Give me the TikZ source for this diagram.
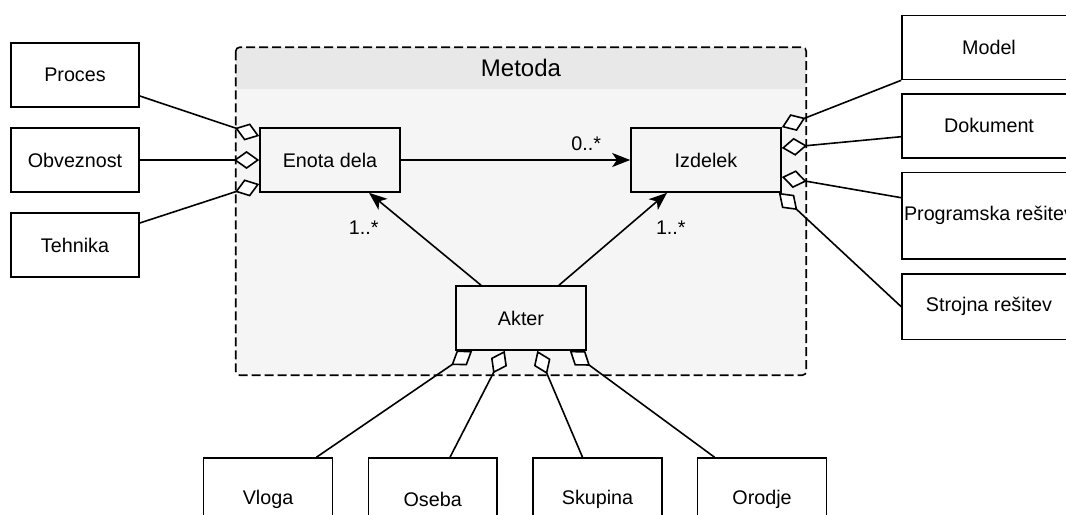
\documentclass[tikz,border=0pt]{standalone}
\usepackage{fontspec}
\setmainfont{Liberation Sans}
\usetikzlibrary{arrows.meta,calc}
\definecolor{laneBody}{HTML}{F5F5F5}
\definecolor{laneHead}{HTML}{E8E8E8}

\begin{document}
\begin{tikzpicture}[x=0.75pt,y=-0.75pt,
  every node/.style={font=\fontsize{14.8pt}{17pt}\selectfont, inner sep=0pt},
  box/.style={draw, line width=1.2pt, fill=white, minimum height=48pt},
  inbox/.style={draw, line width=1.2pt, minimum height=48pt},
  link/.style={line width=1.2pt},
  agg/.style={link, {Diamond[length=19pt,width=13.5pt,fill=white]}-},
  assoc/.style={link, -{Stealth[length=13.5pt,width=10.5pt,inset=3.5pt]}},
  mult/.style={font=\fontsize{14.8pt}{17pt}\selectfont}
]
\useasboundingbox (0,0) rectangle (1066,514);
\clip (0,0) rectangle (1066,514);

% the Metoda lane: body, grey title band, dashed frame
\node[fill=laneBody, minimum width=427.5pt, minimum height=245.6pt, rounded corners=3pt] (metoda) at (521,211.25) {};
\begin{scope}
  \clip (metoda.north west) rectangle ($(metoda.north west)+(570,41.5)$);
  \fill[laneHead, rounded corners=3pt] (metoda.north west) rectangle (metoda.south east);
\end{scope}
\draw[line width=1.2pt, dash pattern=on 6.75pt off 3pt, rounded corners=3pt]
  (metoda.north west) rectangle (metoda.south east);
\node[font=\fontsize{18pt}{21pt}\selectfont] (metodaTitle) at ($(metoda.north)+(0,21)$) {Metoda};

% left column
\node[box, minimum width=96pt] (proces) at (75,75) {Proces};
\node[box, minimum width=96pt] (obv) at (75,160) {Obveznost};
\node[box, minimum width=96pt] (tehnika) at (75,245) {Tehnika};

% classes inside the lane
\node[inbox, minimum width=105pt] (enota) at (330,160) {Enota dela};
\node[inbox, minimum width=112.5pt] (izd) at (706,160) {Izdelek};
\node[inbox, minimum width=97.5pt] (akter) at (521,318) {Akter};

% right column
\node[box, minimum width=130.5pt] (model) at (989,47.5) {Model};
\node[box, minimum width=130.5pt] (dok) at (989,125.7) {Dokument};
\node[box, minimum width=130.5pt, minimum height=65pt] (prog) at (989,215.7) {Programska rešitev};
\node[box, minimum width=130.5pt, minimum height=49pt] (stroj) at (989,306.7) {Strojna rešitev};

% bottom row
\node[box, minimum width=96.5pt, minimum height=61.5pt] (vloga) at (268,499) {Vloga};
\node[box, minimum width=96.5pt, minimum height=61.5pt] (oseba) at (432.7,499) {Oseba};
\node[box, minimum width=96.5pt, minimum height=61.5pt] (skupina) at (597.5,499) {Skupina};
\node[box, minimum width=96.5pt, minimum height=61.5pt] (orodje) at (762,499) {Orodje};

% associations
\draw[assoc] (enota.east) -- (izd.west);
\draw[assoc] ($(akter.north)+(-40,0)$) -- ($(enota.south)+(39,0)$);
\draw[assoc] ($(akter.north)+(38,0)$) -- ($(izd.south)+(-39,0)$);

% aggregations
\draw[agg] ($(enota.west)+(0,-24)$) -- ($(proces.east)+(0,21)$);
\draw[agg] (enota.west) -- (obv.east);
\draw[agg] ($(enota.west)+(0,24)$) -- ($(tehnika.east)+(0,-22)$);
\draw[agg] (izd.north east) -- (model.south west);
\draw[agg] ($(izd.east)+(0,-12)$) -- ($(dok.west)+(0,11)$);
\draw[agg] ($(izd.east)+(0,17)$) -- ($(prog.west)+(0,-18)$);
\draw[agg] ($(izd.south east)+(-3,0)$) -- (stroj.west);
\draw[agg] ($(akter.south)+(-48.75,0)$) -- ($(vloga.north)+(48.5,0)$);
\draw[agg] ($(akter.south)+(-16.25,0)$) -- ($(oseba.north)+(17.3,0)$);
\draw[agg] ($(akter.south)+(16.25,0)$) -- ($(skupina.north)+(-15,0)$);
\draw[agg] ($(akter.south)+(48.75,0)$) -- ($(orodje.north)+(-47.5,0)$);

% multiplicities
\node[mult] (m0) at ($(izd.west)+(-44,-16)$) {0..*};
\node[mult] (m1) at ($(enota.south)+(33.7,35)$) {1..*};
\node[mult] (m2) at ($(izd.south)+(-35.2,35)$) {1..*};
\end{tikzpicture}
\end{document}
